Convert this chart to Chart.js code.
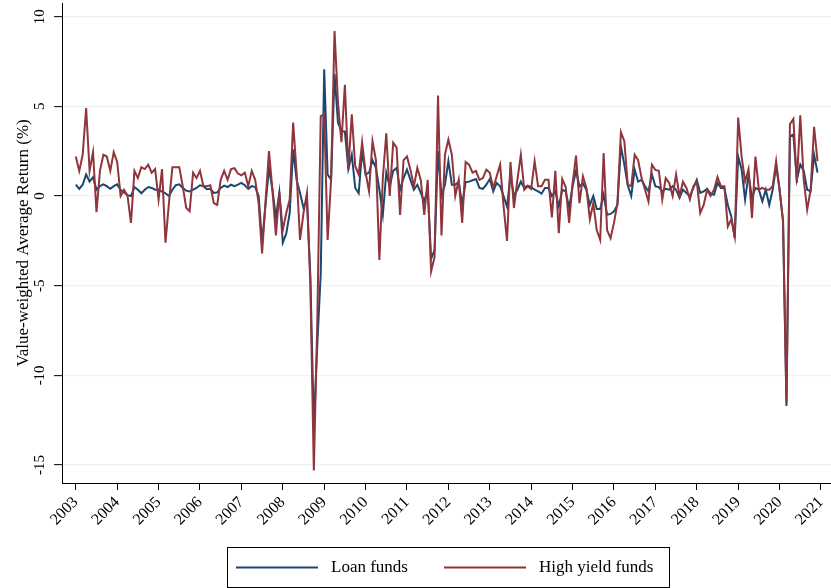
<!DOCTYPE html>
<html>
<head>
<meta charset="utf-8">
<script src="https://cdn.jsdelivr.net/npm/chart.js@4.4.0/dist/chart.umd.min.js"></script>
<style>
  html, body { margin: 0; padding: 0; background: #fff; }
</style>
</head>
<body>
<canvas id="chart_returns" width="831" height="588"></canvas>
<script>
// monthly returns, Jan 2003 - Dec 2020
const startYear = 2003;
const yearTicks = [2003, 2004, 2005, 2006, 2007, 2008, 2009, 2010, 2011, 2012, 2013, 2014, 2015, 2016, 2017, 2018, 2019, 2020, 2021];
const yTicks = [-15, -10, -5, 0, 5, 10];
const seriesNames = ['Loan funds', 'High yield funds'];
const yTitle = 'Value-weighted Average Return (%)';

const loanFunds = [
    0.63, 0.4, 0.63, 1.2, 0.8, 1.05, 0.35, 0.55, 0.65, 0.55, 0.4, 0.55,
    0.65, 0.35, 0.2, 0.05, 0.0, 0.5, 0.35, 0.15, 0.35, 0.5, 0.45, 0.35,
    0.35, 0.25, 0.15, 0.0, 0.35, 0.6, 0.65, 0.45, 0.3, 0.25, 0.35, 0.45,
    0.6, 0.55, 0.38, 0.4, 0.17, 0.2, 0.45, 0.58, 0.5, 0.63, 0.55, 0.63,
    0.73, 0.6, 0.4, 0.55, 0.5, 0.0, -2.6, -0.5, 1.55, 0.35, -1.2, 0.2,
    -2.6, -2.1, -0.95, 2.6, 0.9, 0.17, -0.67, -0.2, -4.5, -12.8, -8.3, -4.3,
    7.07, 1.2, 0.9, 6.8, 4.1, 3.6, 3.6, 1.5, 2.3, 0.45, 0.15, 2.5,
    1.2, 1.3, 2.0, 1.57, 0.35, -1.05, 1.3, 0.54, 1.4, 1.57, 0.35, 1.0,
    1.47, 0.9, 0.35, 0.63, 0.17, -0.3, 0.35, -3.5, -3.0, 2.5, 0.0, 0.63,
    1.94, 0.63, 0.63, 0.8, -0.5, 0.77, 0.8, 0.88, 0.95, 0.45, 0.4, 0.63,
    0.95, 0.26, 0.73, 0.54, 0.0, -0.6, 1.15, 0.0, 0.35, 0.8, 0.45, 0.58,
    0.5, 0.35, 0.26, 0.13, 0.45, 0.45, 0.0, 0.26, -0.58, 0.35, 0.26, -0.67,
    0.54, 1.4, 0.54, 0.7, 0.35, -0.5, 0.0, -0.73, -0.73, 0.07, -1.05, -1.0,
    -0.86, -0.5, 2.78, 1.75, 0.6, 0.0, 1.47, 0.8, 0.9, 0.54, 0.26, 1.2,
    0.54, 0.5, 0.25, 0.4, 0.35, 0.55, 0.35, -0.1, 0.35, 0.17, 0.0, 0.45,
    0.9, 0.17, 0.26, 0.4, 0.13, 0.07, 0.73, 0.45, 0.45, -0.5, -1.14, -2.35,
    2.2, 1.47, -0.2, 1.2, -0.1, 0.45, 0.35, -0.3, 0.35, -0.5, 0.35, 1.66,
    0.4, -1.4, -11.7, 3.34, 3.43, 0.9, 1.75, 1.4, 0.35, 0.26, 2.3, 1.3
];

const highYieldFunds = [
    2.2, 1.4, 2.3, 4.9, 1.4, 2.45, -0.9, 1.4, 2.3, 2.2, 1.4, 2.45,
    1.9, 0.0, 0.35, 0.0, -1.5, 1.4, 1.0, 1.6, 1.5, 1.75, 1.3, 1.5,
    -0.2, 1.5, -2.6, -0.4, 1.6, 1.6, 1.6, 0.55, -0.65, -0.85, 1.3, 1.0,
    1.4, 0.55, 0.55, 0.6, -0.4, -0.5, 0.9, 1.4, 0.9, 1.5, 1.55, 1.25,
    1.15, 1.3, 0.55, 1.4, 0.9, -0.4, -3.2, -0.3, 2.5, 0.35, -2.2, 0.2,
    -1.9, -0.95, -0.2, 4.1, 1.3, -2.45, -0.95, 0.17, -5.0, -15.3, -7.0, 4.45,
    4.55, -2.45, 0.9, 9.2, 5.2, 3.0, 6.2, 1.5, 4.55, 1.66, 1.2, 3.0,
    1.3, 0.26, 3.06, 2.0, -3.56, 1.0, 3.5, 0.0, 2.97, 2.7, -1.05, 2.0,
    2.2, 1.47, 0.54, 1.57, 0.9, -1.05, 0.9, -4.2, -3.4, 5.6, -2.2, 2.3,
    3.15, 2.3, 0.0, 0.9, -1.5, 1.9, 1.75, 1.3, 1.4, 0.9, 1.0, 1.47,
    1.3, 0.45, 1.1, 1.75, -0.58, -2.5, 1.9, -0.67, 0.9, 2.3, 0.35, 0.54,
    0.4, 1.94, 0.54, 0.54, 0.9, 0.9, -1.2, 1.4, -2.07, 0.95, 0.5, -1.5,
    0.7, 2.25, -0.4, 1.1, 0.45, -1.3, -0.4, -1.9, -2.45, 2.4, -1.9, -2.35,
    -1.5, -0.4, 3.56, 3.06, 0.63, 0.54, 2.3, 2.0, 1.0, 0.35, -0.3, 1.75,
    1.45, 1.4, -0.2, 1.0, 0.73, 0.0, 1.2, 0.0, 0.8, 0.45, -0.2, 0.54,
    0.8, -0.95, -0.5, 0.35, 0.0, 0.35, 1.06, 0.54, 0.54, -1.7, -1.3, -2.26,
    4.37, 2.2, 0.8, 1.5, -1.23, 2.2, 0.35, 0.45, 0.35, 0.35, 0.54, 1.94,
    0.3, -1.4, -11.5, 4.0, 4.3, 0.73, 4.5, 0.9, -0.77, 0.35, 3.86, 1.94
];

const serif = "'Liberation Serif', 'Times New Roman', serif";
const toPoints = (vals) => vals.map((v, i) => ({ x: startYear + i / 12, y: v }));

// y tick labels are rotated like the Stata original, so draw them here
const yLabelPlugin = {
    id: 'yLabels',
    afterDraw(chart) {
        const c = chart.ctx;
        const y = chart.scales.y;
        c.save();
        c.font = '15px ' + serif;
        c.fillStyle = '#000';
        c.textAlign = 'center';
        c.textBaseline = 'middle';
        yTicks.forEach(v => {
            c.save();
            c.translate(40, y.getPixelForValue(v));
            c.rotate(-Math.PI / 2);
            c.fillText(String(v), 0, 0);
            c.restore();
        });
        c.restore();
    }
};

// boxed legend under the axis
const boxLegendPlugin = {
    id: 'boxLegend',
    afterDraw(chart) {
        const c = chart.ctx;
        const sets = chart.data.datasets;
        c.save();
        c.strokeStyle = '#000';
        c.lineWidth = 1;
        c.strokeRect(227.5, 547.5, 442, 40);
        c.font = '17px ' + serif;
        c.fillStyle = '#000';
        c.textBaseline = 'middle';
        const entries = [
            { x: 236, ds: sets[1] },
            { x: 444, ds: sets[0] }
        ];
        entries.forEach(e => {
            c.strokeStyle = e.ds.borderColor;
            c.lineWidth = 2.2;
            c.beginPath();
            c.moveTo(e.x, 567.5);
            c.lineTo(e.x + 82, 567.5);
            c.stroke();
            c.fillText(e.ds.label, e.x + 95, 568);
        });
        c.restore();
    }
};

const ctx = document.getElementById('chart_returns').getContext('2d');

const myChart = new Chart(ctx, {
    type: 'line',
    data: {
        datasets: [{
            label: seriesNames[1],
            data: toPoints(highYieldFunds),
            borderColor: '#90353b',
            borderWidth: 2,
            pointRadius: 0,
            tension: 0,
            order: 0
        }, {
            label: seriesNames[0],
            data: toPoints(loanFunds),
            borderColor: '#1a476f',
            borderWidth: 2,
            pointRadius: 0,
            tension: 0,
            order: 1
        }]
    },
    options: {
        responsive: false,
        animation: false,
        devicePixelRatio: 1,
        layout: { padding: { top: 3, right: 0, bottom: 55, left: 0 } },
        scales: {
            x: {
                type: 'linear',
                min: 2002.667,
                max: 2021.242,
                afterBuildTicks: (scale) => { scale.ticks = yearTicks.map(v => ({ value: v })); },
                afterFit: (scale) => {
                    scale.height = 50;
                    scale.paddingLeft = 0;
                    scale.paddingRight = 0;
                },
                border: { color: '#000', width: 1 },
                grid: { drawOnChartArea: false, drawTicks: true, tickLength: 7, tickColor: '#000' },
                ticks: {
                    autoSkip: false,
                    minRotation: 45,
                    maxRotation: 45,
                    color: '#000',
                    font: { size: 16, family: serif },
                    callback: (v) => String(v)
                }
            },
            y: {
                min: -16,
                max: 10.76,
                afterBuildTicks: (scale) => { scale.ticks = yTicks.map(v => ({ value: v })); },
                afterFit: (scale) => { scale.width = 62; },
                border: { color: '#000', width: 1 },
                grid: { color: '#eaf2f3', lineWidth: 1.3, drawTicks: true, tickLength: 8, tickColor: '#000', tickWidth: 1 },
                ticks: { display: false },
                title: {
                    display: true,
                    text: yTitle,
                    color: '#000',
                    font: { size: 17, family: serif },
                    padding: { top: 13, bottom: 0 }
                }
            }
        },
        plugins: {
            legend: { display: false },
            tooltip: { enabled: false }
        }
    },
    plugins: [yLabelPlugin, boxLegendPlugin]
});
</script>
</body>
</html>
